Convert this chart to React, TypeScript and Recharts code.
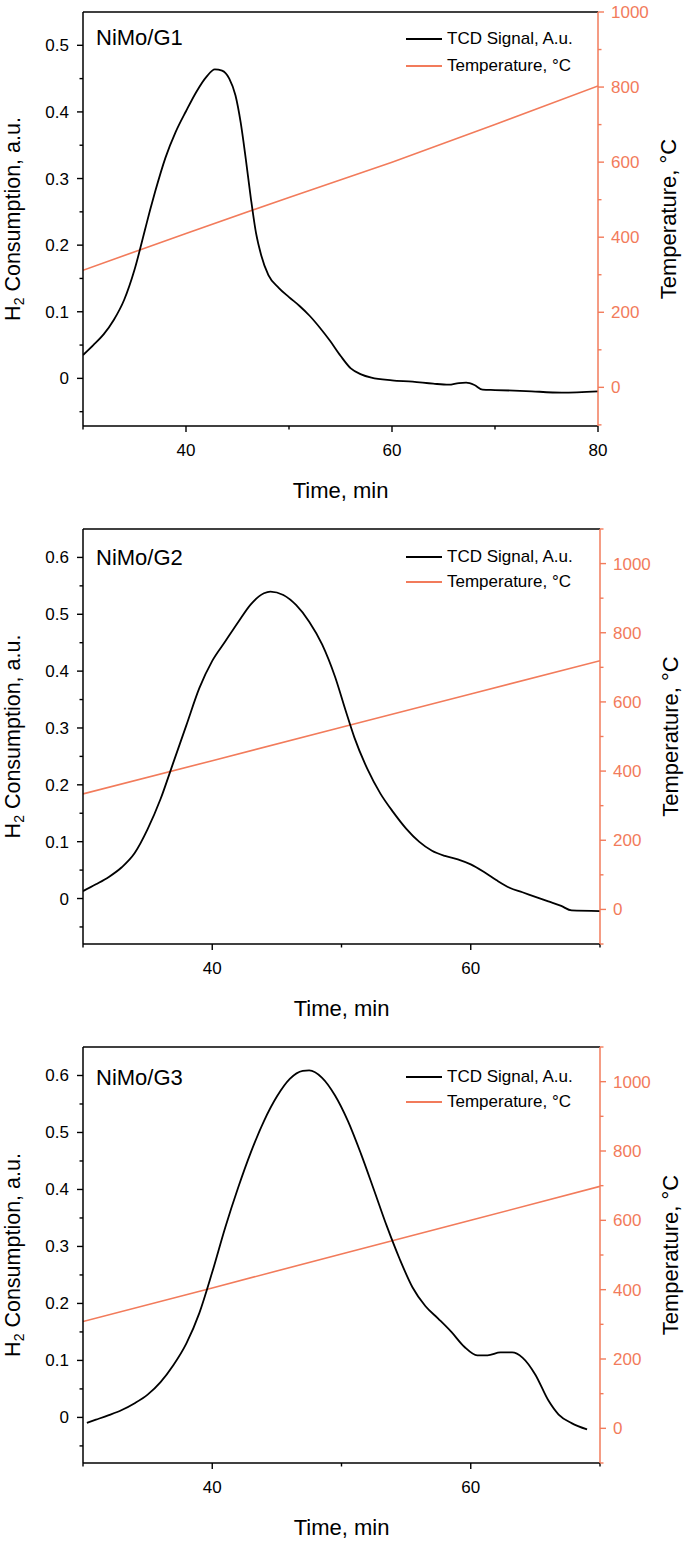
import React from 'react';
import { LineChart, Line, XAxis, YAxis, ReferenceLine, Legend } from 'recharts';

const ORANGE = '#F27B5B';
const FONT = '"Liberation Sans", Arial, Helvetica, sans-serif';

// ---------------- NiMo/G1 ----------------
const g1TcdTime = [30, 31, 32, 33, 34, 35, 36, 36.5, 37, 38, 39, 40, 41, 42, 42.8, 43.5, 44.2, 44.8, 45.3, 45.8, 46.3, 46.8, 47.3, 48, 49, 50, 51, 52, 53, 54, 55, 56, 57, 58, 60, 62, 64, 65.5, 66.5, 67.2, 68, 68.8, 70, 73, 76.5, 80];
const g1TcdValue = [0.035, 0.05, 0.066, 0.088, 0.118, 0.163, 0.222, 0.252, 0.28, 0.331, 0.37, 0.401, 0.43, 0.453, 0.464, 0.462, 0.45, 0.425, 0.385, 0.33, 0.27, 0.218, 0.185, 0.155, 0.136, 0.122, 0.109, 0.094, 0.076, 0.056, 0.034, 0.015, 0.006, 0.001, -0.003, -0.005, -0.008, -0.0095, -0.007, -0.0065, -0.01, -0.017, -0.0175, -0.019, -0.0215, -0.0195];
const g1TempTime = [30, 40, 50, 60, 70, 80];
const g1TempValue = [312, 410, 506, 600, 700, 803];

// ---------------- NiMo/G2 ----------------
const g2TcdTime = [30, 31, 32, 33, 34, 35, 36, 37, 38, 39, 40, 41, 42, 43, 44, 44.5, 45.5, 46.5, 47.5, 48.5, 49.5, 50.3, 51, 52, 53, 54, 55, 56, 57, 58, 59, 60, 61, 62, 63, 64, 65, 66, 67, 67.8, 70];
const g2TcdValue = [0.013, 0.025, 0.038, 0.055, 0.08, 0.122, 0.175, 0.24, 0.305, 0.37, 0.418, 0.452, 0.486, 0.518, 0.537, 0.54, 0.534, 0.516, 0.487, 0.447, 0.39, 0.332, 0.283, 0.228, 0.185, 0.152, 0.123, 0.1, 0.084, 0.075, 0.069, 0.06, 0.047, 0.032, 0.019, 0.011, 0.003, -0.005, -0.013, -0.021, -0.022];
const g2TempTime = [30, 40, 50, 60, 70];
const g2TempValue = [334, 430, 527, 623, 719];

// ---------------- NiMo/G3 ----------------
const g3TcdTime = [30.3, 31, 32, 33, 34, 35, 36, 37, 38, 39, 40, 41, 42, 43, 44, 45, 46, 47, 47.5, 48.5, 49.5, 50.5, 51.5, 52.5, 53.5, 54.5, 55.5, 56.5, 57.5, 58.5, 59.5, 60.5, 61.3, 62.3, 63.2, 64, 65, 66, 66.8, 67.8, 69];
const g3TcdValue = [-0.0095, -0.004, 0.004, 0.013, 0.025, 0.04, 0.062, 0.092, 0.13, 0.183, 0.255, 0.333, 0.403, 0.466, 0.52, 0.563, 0.594, 0.608, 0.609, 0.596, 0.565, 0.52, 0.463, 0.4, 0.336, 0.278, 0.228, 0.195, 0.173, 0.15, 0.124, 0.109, 0.109, 0.114, 0.114, 0.105, 0.075, 0.03, 0.005, -0.01, -0.021];
const g3TempTime = [30, 40, 50, 60, 70];
const g3TempValue = [308, 405, 503, 600, 698];

// ---------------- axes ----------------
const xTicksA = [30, 40, 50, 60, 70, 80];
const xLabelsA = [40, 60, 80];
const xTicksB = [30, 40, 50, 60, 70];
const xLabelsB = [40, 60];
const yTicksA = [-0.05, 0, 0.05, 0.1, 0.15, 0.2, 0.25, 0.3, 0.35, 0.4, 0.45, 0.5];
const yLabelsA = [0, 0.1, 0.2, 0.3, 0.4, 0.5];
const yTicksB = [-0.05, 0, 0.05, 0.1, 0.15, 0.2, 0.25, 0.3, 0.35, 0.4, 0.45, 0.5, 0.55, 0.6];
const yLabelsB = [0, 0.1, 0.2, 0.3, 0.4, 0.5, 0.6];
const tTicksA = [-100, 0, 100, 200, 300, 400, 500, 600, 700, 800, 900, 1000];
const tTicksB = [-100, 0, 100, 200, 300, 400, 500, 600, 700, 800, 900, 1000, 1100];
const tLabels = [0, 200, 400, 600, 800, 1000];

const legendNames = ['TCD Signal, A.u.', 'Temperature, °C'];

const zip = (ts: number[], vs: number[]) => ts.map((t, i) => ({ t, v: vs[i] }));
const has = (arr: number[], v: number) => arr.some((a) => Math.abs(a - v) < 1e-9);
const fmt = (v: number) => String(Number(v.toFixed(3)));

const MAJOR = 6;
const MINOR = 3.5;
const TICK_FS = 17;

function makeXTick(labels: number[]) {
  return (p: any) => {
    const v = p.payload.value;
    const major = has(labels, v);
    return (
      <g>
        <line x1={p.x} x2={p.x} y1={p.y} y2={p.y + (major ? MAJOR : MINOR)} stroke="#000" strokeWidth={1.4} />
        {major && (
          <text x={p.x} y={p.y + 30} textAnchor="middle" fontSize={TICK_FS} fill="#000" fontFamily={FONT}>
            {fmt(v)}
          </text>
        )}
      </g>
    );
  };
}

function makeLeftTick(labels: number[]) {
  return (p: any) => {
    const v = p.payload.value;
    const major = has(labels, v);
    return (
      <g>
        <line x1={p.x} x2={p.x - (major ? MAJOR : MINOR)} y1={p.y} y2={p.y} stroke="#000" strokeWidth={1.4} />
        {major && (
          <text x={p.x - 14} y={p.y + 6} textAnchor="end" fontSize={TICK_FS} fill="#000" fontFamily={FONT}>
            {fmt(v)}
          </text>
        )}
      </g>
    );
  };
}

function makeRightTick(labels: number[]) {
  return (p: any) => {
    const v = p.payload.value;
    const major = has(labels, v);
    return (
      <g>
        <line x1={p.x} x2={p.x + (major ? MAJOR : MINOR)} y1={p.y} y2={p.y} stroke={ORANGE} strokeWidth={1.4} />
        {major && (
          <text x={p.x + 13} y={p.y + 6} textAnchor="start" fontSize={TICK_FS} fill={ORANGE} fontFamily={FONT}>
            {fmt(v)}
          </text>
        )}
      </g>
    );
  };
}

function makeLegend(rowH: number) {
  return () => (
    <div style={{ fontFamily: FONT, fontSize: 17, color: '#000', whiteSpace: 'nowrap' }}>
      {legendNames.map((name, i) => (
        <div key={name} style={{ display: 'flex', alignItems: 'center', height: rowH }}>
          <span
            style={{
              display: 'inline-block',
              width: 36,
              height: 2,
              background: i === 0 ? '#000' : ORANGE,
              marginRight: 5,
            }}
          />
          <span>{name}</span>
        </div>
      ))}
    </div>
  );
}

type PanelProps = {
  top: number;
  height: number;
  marginTop: number;
  plotHeight: number;
  rightWidth: number;
  title: string;
  titleTop: number;
  tcd: { t: number; v: number }[];
  temp: { t: number; v: number }[];
  xDomain: number[];
  xTicks: number[];
  xLabels: number[];
  yDomain: number[];
  yTicks: number[];
  yLabels: number[];
  tDomain: number[];
  tTicks: number[];
  legendTop: number;
  legendRow: number;
};

function Panel(props: PanelProps) {
  const {
    top, height, marginTop, plotHeight, rightWidth, title, titleTop, tcd, temp,
    xDomain, xTicks, xLabels, yDomain, yTicks, yLabels, tDomain, tTicks, legendTop, legendRow,
  } = props;
  const xAxisHeight = height - marginTop - plotHeight;
  const plotRight = 685 - rightWidth;
  const midY = marginTop + plotHeight / 2;
  const plotBottom = marginTop + plotHeight;
  const leftTitleX = 20;
  const rightTitleX = plotRight + 78;

  return (
    <div style={{ position: 'absolute', left: 0, top, width: 685, height }}>
      <LineChart width={685} height={height} margin={{ top: marginTop, right: 0, bottom: 0, left: 0 }}>
        <XAxis
          dataKey="t"
          type="number"
          domain={xDomain}
          ticks={xTicks}
          interval={0}
          allowDataOverflow
          height={xAxisHeight}
          tickSize={0}
          tickMargin={0}
          tickLine={false}
          axisLine={{ stroke: '#000', strokeWidth: 1.5 }}
          tick={makeXTick(xLabels)}
          label={{
            content: () => (
              <text x={(83 + plotRight) / 2} y={plotBottom + 72} textAnchor="middle" fontSize={22} fill="#000" fontFamily={FONT}>
                Time, min
              </text>
            ),
          }}
        />
        <YAxis
          yAxisId="left"
          orientation="left"
          type="number"
          domain={yDomain}
          ticks={yTicks}
          interval={0}
          allowDataOverflow
          width={83}
          tickSize={0}
          tickMargin={0}
          tickLine={false}
          axisLine={{ stroke: '#000', strokeWidth: 1.5 }}
          tick={makeLeftTick(yLabels)}
          label={{
            content: () => (
              <text
                x={leftTitleX}
                y={midY}
                transform={`rotate(-90, ${leftTitleX}, ${midY})`}
                textAnchor="middle"
                fontSize={21.5}
                fill="#000"
                fontFamily={FONT}
              >
                H<tspan fontSize={14} dy={4}>2</tspan>
                <tspan dy={-4}> Consumption, a.u.</tspan>
              </text>
            ),
          }}
        />
        <YAxis
          yAxisId="right"
          orientation="right"
          type="number"
          domain={tDomain}
          ticks={tTicks}
          interval={0}
          allowDataOverflow
          width={rightWidth}
          tickSize={0}
          tickMargin={0}
          tickLine={false}
          axisLine={{ stroke: ORANGE, strokeWidth: 1.5 }}
          tick={makeRightTick(tLabels)}
          label={{
            content: () => (
              <text
                x={rightTitleX}
                y={midY}
                transform={`rotate(-90, ${rightTitleX}, ${midY})`}
                textAnchor="middle"
                fontSize={22}
                fill="#000"
                fontFamily={FONT}
              >
                Temperature, °C
              </text>
            ),
          }}
        />
        <ReferenceLine yAxisId="left" y={yDomain[1]} stroke="#000" strokeWidth={1.5} />
        <Line
          yAxisId="right"
          data={temp}
          dataKey="v"
          type="linear"
          stroke={ORANGE}
          strokeWidth={1.6}
          dot={false}
          activeDot={false}
          isAnimationActive={false}
        />
        <Line
          yAxisId="left"
          data={tcd}
          dataKey="v"
          type="monotone"
          stroke="#000"
          strokeWidth={1.8}
          dot={false}
          activeDot={false}
          isAnimationActive={false}
        />
        <Legend
          layout="horizontal"
          verticalAlign="middle"
          align="center"
          content={makeLegend(legendRow)}
          wrapperStyle={{ left: 406, top: legendTop, width: 'auto', height: 'auto' }}
        />
      </LineChart>
      <div
        style={{
          position: 'absolute',
          left: 96,
          top: titleTop,
          fontFamily: FONT,
          fontSize: 22,
          lineHeight: '22px',
          color: '#000',
          whiteSpace: 'nowrap',
        }}
      >
        {title}
      </div>
    </div>
  );
}

export default function App() {
  return (
    <div style={{ position: 'absolute', left: 0, top: 0, width: 685, height: 1542, background: '#fff', fontFamily: FONT }}>
      <Panel
        top={0}
        height={515}
        marginTop={12}
        plotHeight={414}
        rightWidth={87}
        title="NiMo/G1"
        titleTop={27}
        tcd={zip(g1TcdTime, g1TcdValue)}
        temp={zip(g1TempTime, g1TempValue)}
        xDomain={[30, 80]}
        xTicks={xTicksA}
        xLabels={xLabelsA}
        yDomain={[-0.0715, 0.55]}
        yTicks={yTicksA}
        yLabels={yLabelsA}
        tDomain={[-103, 1000]}
        tTicks={tTicksA}
        legendTop={25}
        legendRow={27}
      />
      <Panel
        top={515}
        height={520}
        marginTop={14}
        plotHeight={415}
        rightWidth={85}
        title="NiMo/G2"
        titleTop={32}
        tcd={zip(g2TcdTime, g2TcdValue)}
        temp={zip(g2TempTime, g2TempValue)}
        xDomain={[30, 70]}
        xTicks={xTicksB}
        xLabels={xLabelsB}
        yDomain={[-0.08, 0.65]}
        yTicks={yTicksB}
        yLabels={yLabelsB}
        tDomain={[-100, 1100]}
        tTicks={tTicksB}
        legendTop={29}
        legendRow={25}
      />
      <Panel
        top={1035}
        height={507}
        marginTop={12}
        plotHeight={416}
        rightWidth={85}
        title="NiMo/G3"
        titleTop={32}
        tcd={zip(g3TcdTime, g3TcdValue)}
        temp={zip(g3TempTime, g3TempValue)}
        xDomain={[30, 70]}
        xTicks={xTicksB}
        xLabels={xLabelsB}
        yDomain={[-0.08, 0.65]}
        yTicks={yTicksB}
        yLabels={yLabelsB}
        tDomain={[-100, 1100]}
        tTicks={tTicksB}
        legendTop={29}
        legendRow={25}
      />
    </div>
  );
}
